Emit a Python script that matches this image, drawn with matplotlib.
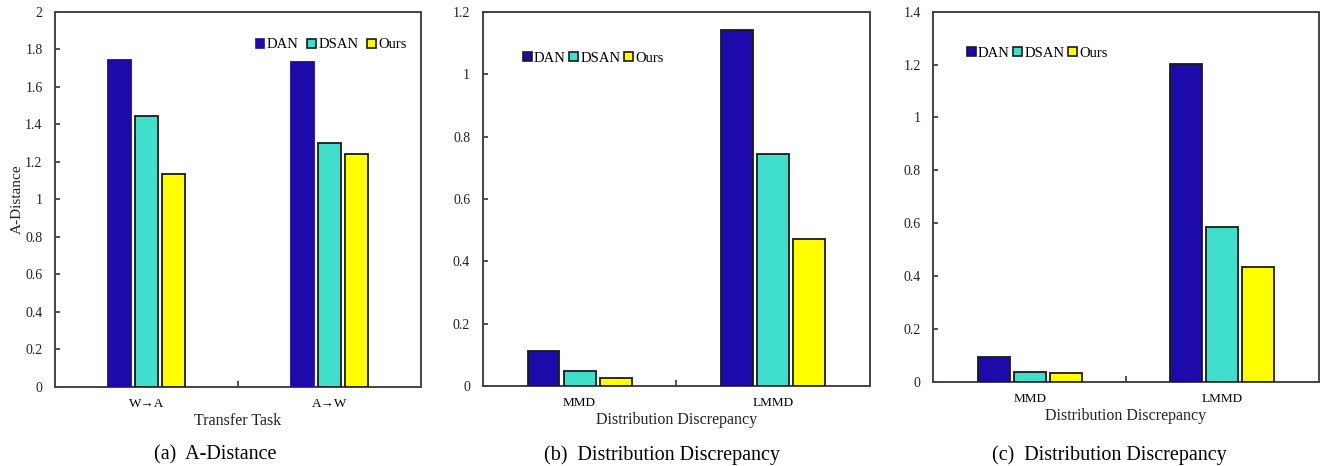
import matplotlib
matplotlib.use("Agg")
import matplotlib.pyplot as plt
import numpy as np
from matplotlib.patches import Patch

plt.rcParams['font.family'] = ['Liberation Serif', 'DejaVu Serif']

methods = ["DAN", "DSAN", "Ours"]
colors = ["#1C0AAA", "#40DFCB", "#FFFF00"]

cats_a = ["W→A", "A→W"]
vals_a = {"DAN": [1.742, 1.735], "DSAN": [1.447, 1.300], "Ours": [1.137, 1.242]}

cats_b = ["MMD", "LMMD"]
vals_b = {"DAN": [0.113, 1.142], "DSAN": [0.049, 0.745], "Ours": [0.025, 0.472]}

cats_c = ["MMD", "LMMD"]
vals_c = {"DAN": [0.092, 1.203], "DSAN": [0.038, 0.586], "Ours": [0.033, 0.435]}

W, H = 1324, 466
fig = plt.figure(figsize=(W / 100, H / 100), dpi=100)


def px_axes(l, r, t, b):
    return fig.add_axes([l / W, (H - b) / H, (r - l) / W, (b - t) / H])


def panel(ax, cats, vals, ymax, ystep, bw, step, dan_edge, xlabel, ylabel,
          leg_loc, leg_anchor):
    x = np.arange(len(cats))
    for i, m in enumerate(methods):
        ec = colors[0] if (m == "DAN" and not dan_edge) else "#1a1a1a"
        ax.bar(x + (i - 1) * step, vals[m], width=bw, color=colors[i],
               edgecolor=ec, linewidth=1.3, zorder=3)
    ax.set_xlim(-0.5, len(cats) - 0.5)
    ax.set_ylim(0, ymax)
    yt = np.arange(0, ymax + 1e-9, ystep)
    ax.set_yticks(yt)
    ax.set_yticklabels([("%g" % round(v, 1)) for v in yt], fontsize=10)
    ax.set_xticks(x)
    ax.set_xticklabels(cats, fontsize=9.5)
    ax.set_xticks([0.5], minor=True)
    ax.tick_params(axis='x', which='major', length=0, pad=8)
    ax.tick_params(axis='x', which='minor', direction='in', length=4, width=1.2, color='#333333')
    ax.tick_params(axis='y', direction='in', length=3.5, width=1.2, color='#333333', pad=9,
                   labelcolor='#222222')
    for s in ax.spines.values():
        s.set_linewidth(1.4)
        s.set_color('#444444')
    ax.set_xlabel(xlabel, fontsize=11.5, labelpad=2, color='#222222')
    if ylabel:
        ax.set_ylabel(ylabel, fontsize=11, color='#222222')
        ax.yaxis.set_label_coords(-0.085, 0.5)
    handles = []
    for i, m in enumerate(methods):
        ec = colors[0] if (m == "DAN" and not dan_edge) else "#1a1a1a"
        handles.append(Patch(facecolor=colors[i], edgecolor=ec, linewidth=1.2, label=m))
    ax.legend(handles=handles, loc=leg_loc, bbox_to_anchor=leg_anchor, ncol=3,
              frameon=False, fontsize=10.5, handlelength=0.6, handleheight=0.6,
              handletextpad=0.15, columnspacing=0.6 if leg_loc == 'center right' else 0.25,
              borderpad=0, borderaxespad=0)


ax1 = px_axes(55, 421, 12, 386.7)
panel(ax1, cats_a, vals_a, 2.0, 0.2, 0.13, 0.1475, False, "Transfer Task", "A-Distance",
      'center right', (0.96, 0.912))

ax2 = px_axes(482.7, 870, 12, 386)
panel(ax2, cats_b, vals_b, 1.2, 0.2, 0.165, 0.186, True, "Distribution Discrepancy", None,
      'center left', (0.104, 0.877))

ax3 = px_axes(933.3, 1318.7, 11.7, 381.7)
panel(ax3, cats_c, vals_c, 1.4, 0.2, 0.166, 0.187, True, "Distribution Discrepancy", None,
      'center left', (0.087, 0.888))

cap_y = 1 - 455 / H
fig.text(215 / W, cap_y, "(a)  A-Distance", ha='center', va='center', fontsize=14.5)
fig.text(662 / W, cap_y, "(b)  Distribution Discrepancy", ha='center', va='center', fontsize=14.5)
fig.text(1109 / W, cap_y, "(c)  Distribution Discrepancy", ha='center', va='center', fontsize=14.5)

fig.savefig("out.png", dpi=100)
